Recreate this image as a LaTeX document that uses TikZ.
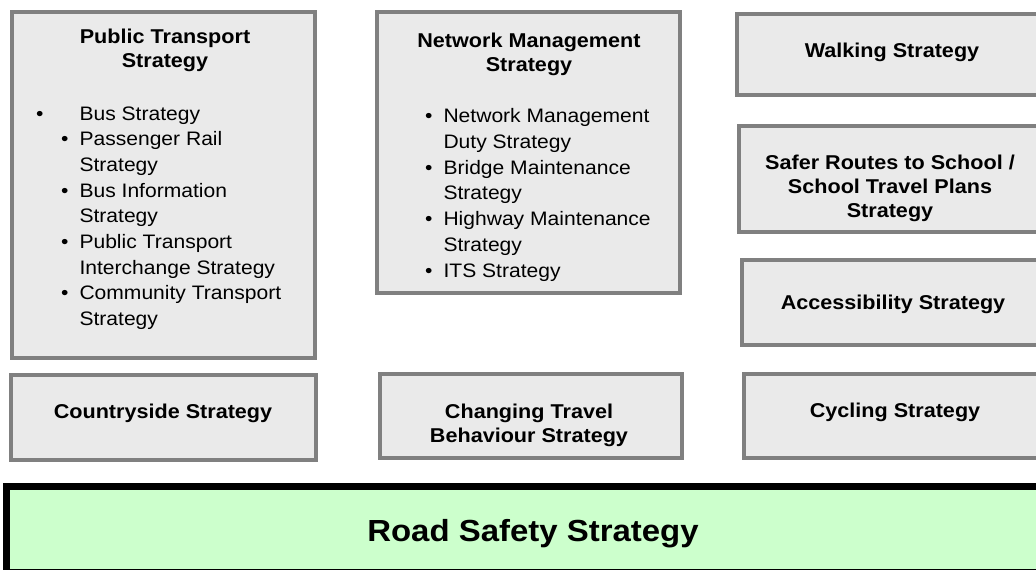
\documentclass[tikz,border=0pt]{standalone}
\usepackage{fontspec}
\setmainfont{Liberation Sans}[FakeStretch=1.08]
\usetikzlibrary{positioning}

\definecolor{boxgray}{HTML}{808080}
\definecolor{boxfill}{HTML}{EAEAEA}
\definecolor{roadfill}{HTML}{CCFFCC}

% bullet hung to the left of the item text
\newcommand{\bul}[1][11pt]{\llap{\textbullet\hspace{#1}}}

\begin{document}
\begin{tikzpicture}[x=1pt,y=-1pt,
	strat/.style={draw=boxgray,fill=boxfill,line width=4pt,inner sep=0pt,anchor=north west},
	head/.style={font=\fontsize{20}{24}\selectfont\bfseries,align=center,anchor=base},
	items/.style={font=\fontsize{19.5}{25.7}\selectfont,align=left,anchor=base west}]
	\useasboundingbox (0,0) rectangle (1036,570);
	% text nodes sit on the baseline of their last line
	%
	% left column
	\node[strat,minimum width=303pt,minimum height=346pt] (pt) at (10,10) {};
	\node[head] (pth) at (165,67) {Public Transport\\Strategy};
	\node[items] (ptl) at (76,325.6) {\bul[36pt]Bus Strategy\\
		\bul Passenger Rail\\Strategy\\
		\bul Bus Information\\Strategy\\
		\bul Public Transport\\Interchange Strategy\\
		\bul Community Transport\\Strategy};
	\node[strat,minimum width=305pt,minimum height=85pt] (cs) at (9,373) {};
	\node[head] (csh) at (163,418) {Countryside Strategy};
	%
	% middle column
	\node[strat,minimum width=303pt,minimum height=281pt] (nm) at (375,10) {};
	\node[head] (nmh) at (529,71) {Network Management\\Strategy};
	\node[items] (nml) at (440,277) {\bul Network Management\\Duty Strategy\\
		\bul Bridge Maintenance\\Strategy\\
		\bul Highway Maintenance\\Strategy\\
		\bul ITS Strategy};
	\node[strat,minimum width=302pt,minimum height=84pt] (ct) at (378,372) {};
	\node[head] (cth) at (529,442) {Changing Travel\\Behaviour Strategy};
	%
	% right column, cut off at the page edge
	\node[strat,minimum width=320pt,minimum height=81pt] (wk) at (735,12) {};
	\node[head] (wkh) at (892,57) {Walking Strategy};
	\node[strat,minimum width=320pt,minimum height=106pt] (sr) at (737,124) {};
	\node[head] (srh) at (890,217) {Safer Routes to School /\\School Travel Plans\\Strategy};
	\node[strat,minimum width=320pt,minimum height=85pt] (ac) at (740,258) {};
	\node[head] (ach) at (893,309) {Accessibility Strategy};
	\node[strat,minimum width=320pt,minimum height=84pt] (cy) at (742,372) {};
	\node[head] (cyh) at (895,417) {Cycling Strategy};
	%
	% base layer, runs off the bottom and right edges
	\node[draw=black,fill=roadfill,line width=7pt,inner sep=0pt,anchor=north west,
		minimum width=1060pt,minimum height=86pt] (rs) at (3,483) {};
	\node[font=\fontsize{30.5}{34}\selectfont\bfseries,anchor=base] (rsh) at (533,541) {Road Safety Strategy};
\end{tikzpicture}
\end{document}
